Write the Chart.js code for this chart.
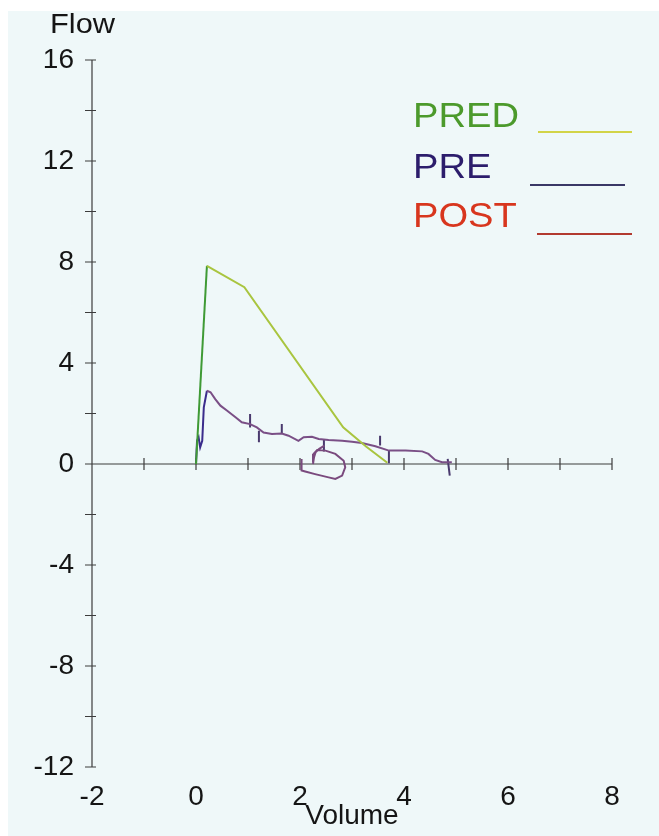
<!DOCTYPE html>
<html><head><meta charset="utf-8">
<script src="https://cdn.jsdelivr.net/npm/chart.js@4/dist/chart.umd.min.js"></script>
<style>html,body{margin:0;padding:0;background:#ffffff;}canvas{display:block}</style>
</head><body>
<canvas id="c" width="659" height="836"></canvas>
<script>
// ---- data ----
const xTickLabels = ['-2','0','2','4','6','8'];
const yTickLabels = ['-12','-8','-4','0','4','8','12','16'];
const legendLabels = ['PRED','PRE','POST'];

const predVolume = [0, 0.21, 0.93, 2.83, 3.27, 3.68];
const predFlow   = [0, 7.85, 7.00, 1.45, 0.69, 0.05];

const preVolume = [0,0.02,0.05,0.08,0.12,0.15,0.21,0.28,0.37,0.47,0.60,0.76,0.88,1.04,1.17,1.30,1.46,1.65,1.78,1.97,2.07,2.23,2.36,2.55,2.81,3.00,3.19,3.45,3.71,4.03,4.35,4.47,4.60,4.73,4.92];
const preFlow   = [0,0.92,1.06,0.66,0.92,2.24,2.90,2.84,2.57,2.31,2.11,1.85,1.65,1.58,1.45,1.25,1.19,1.21,1.12,0.92,1.06,1.08,0.99,0.95,0.92,0.88,0.83,0.70,0.53,0.53,0.50,0.40,0.16,0.07,0.07];

const loopVolume = [2.47,2.37,2.30,2.27,2.25,null,2.03,2.03,2.10,2.29,2.55,2.68,2.81,2.87,2.84,2.68,2.49,2.33,2.26,2.25];
const loopFlow   = [0.73,0.60,0.47,0.27,0.00,null,0.20,-0.26,-0.30,-0.40,-0.53,-0.59,-0.46,-0.13,0.13,0.40,0.53,0.55,0.40,0.07];

const markVolume = [1.04,1.04,null,1.21,1.21,null,1.65,1.65,null,2.46,2.46,null,3.54,3.54,null,3.71,3.71,null,4.84,4.88];
const markFlow   = [1.98,1.45,null,1.32,0.86,null,1.58,1.19,null,0.99,0.50,null,1.12,0.73,null,0.53,0.03,null,0.20,-0.46];

const xMin=-2, xMax=8, yMin=-12, yMax=16;

function pts(xs, ys){ return xs.map((v,i)=> (v===null||ys[i]===null) ? {x:NaN,y:NaN} : {x:v,y:ys[i]}); }

const FONT = '"Liberation Sans", Arial, sans-serif';

const axesPlugin = {
  id:'flowAxes',
  beforeDraw(chart){
    const {ctx, width, height} = chart;
    ctx.save();
    ctx.fillStyle='#ffffff'; ctx.fillRect(0,0,width,height);
    ctx.fillStyle='#eff8f9'; ctx.fillRect(8,11,width-8,height-11);
    ctx.restore();
  },
  beforeDatasetsDraw(chart){
    const {ctx, scales:{x,y}} = chart;
    ctx.save();
    ctx.strokeStyle='#3c3c3c'; ctx.lineWidth=1.2;
    const xa = x.getPixelForValue(xMin);
    const y0 = y.getPixelForValue(0);
    ctx.beginPath();
    ctx.moveTo(xa, y.getPixelForValue(yMax)); ctx.lineTo(xa, y.getPixelForValue(yMin));
    for(let v=yMin; v<=yMax; v+=2){ const py=y.getPixelForValue(v); ctx.moveTo(xa-7,py); ctx.lineTo(xa+4,py); }
    ctx.moveTo(xa, y0); ctx.lineTo(x.getPixelForValue(xMax), y0);
    for(let v=xMin+1; v<=xMax; v++){ const px=x.getPixelForValue(v); ctx.moveTo(px,y0-6); ctx.lineTo(px,y0+6); }
    ctx.stroke();
    ctx.restore();
  },
  afterDraw(chart){
    const {ctx} = chart;
    ctx.save();
    ctx.fillStyle='#151515'; ctx.font='28px '+FONT; ctx.textBaseline='alphabetic';
    ctx.save(); ctx.translate(50,33); ctx.scale(1.1,1); ctx.fillText('Flow', 0, 0); ctx.restore();
    const leg = [
      {t:legendLabels[0], c:'#4c9a2c', lc:'#d2d448', x:413, b:127, l1:538, l2:632, ly:132},
      {t:legendLabels[1], c:'#2c1d6c', lc:'#3a3866', x:413, b:178, l1:530, l2:625, ly:185},
      {t:legendLabels[2], c:'#d8361e', lc:'#b23a30', x:413, b:227, l1:537, l2:632, ly:234}
    ];
    ctx.font='35px '+FONT;
    leg.forEach(e=>{
      ctx.save(); ctx.translate(e.x, e.b); ctx.scale(1.09,1); ctx.fillStyle=e.c; ctx.fillText(e.t,0,0); ctx.restore();
      ctx.strokeStyle=e.lc; ctx.lineWidth=2; ctx.beginPath(); ctx.moveTo(e.l1,e.ly); ctx.lineTo(e.l2,e.ly); ctx.stroke();
    });
    ctx.restore();
  }
};

new Chart(document.getElementById('c'), {
  type:'scatter',
  data:{ datasets:[
    { label:'PRED', data:pts(predVolume,predFlow), showLine:true, pointRadius:0, borderWidth:2,
      borderColor:'#a9c53f', segment:{borderColor:c=> c.p0DataIndex===0 ? '#3f9a35' : '#a9c53f'} },
    { label:'PRE', data:pts(preVolume,preFlow), showLine:true, pointRadius:0, borderWidth:2,
      borderColor:'#7a4f86', segment:{borderColor:c=> c.p0.parsed.x < 0.2 ? '#3b2c8c' : '#7a4f86'} },
    { label:'PRE loop', data:pts(loopVolume,loopFlow), showLine:true, spanGaps:false, pointRadius:0, borderWidth:2, borderColor:'#7a4a7e' },
    { label:'PRE marks', data:pts(markVolume,markFlow), showLine:true, spanGaps:false, pointRadius:0, borderWidth:2, borderColor:'#4a3a6e' }
  ]},
  options:{
    responsive:false, animation:false, devicePixelRatio:1,
    layout:{padding:{top:60,right:47,left:0,bottom:0}},
    plugins:{legend:{display:false}, tooltip:{enabled:false}},
    scales:{
      x:{type:'linear', min:xMin, max:xMax, afterFit(s){s.height=69;},
        grid:{display:false, drawTicks:false}, border:{display:false},
        ticks:{stepSize:1, autoSkip:false, maxRotation:0, padding:13, color:'#151515', font:{size:28, family:FONT},
          callback:v=> xTickLabels.includes(String(v)) ? String(v) : ''},
        title:{display:true, text:'Volume', color:'#151515', font:{size:28, family:FONT}, padding:{top:0,bottom:3}}
      },
      y:{type:'linear', min:yMin, max:yMax, afterFit(s){s.width=92;},
        grid:{display:false, drawTicks:false}, border:{display:false},
        ticks:{stepSize:2, autoSkip:false, padding:18, color:'#151515', font:{size:28, family:FONT},
          callback:v=> yTickLabels.includes(String(v)) ? String(v) : ''}
      }
    }
  },
  plugins:[axesPlugin]
});
</script>
</body></html>
